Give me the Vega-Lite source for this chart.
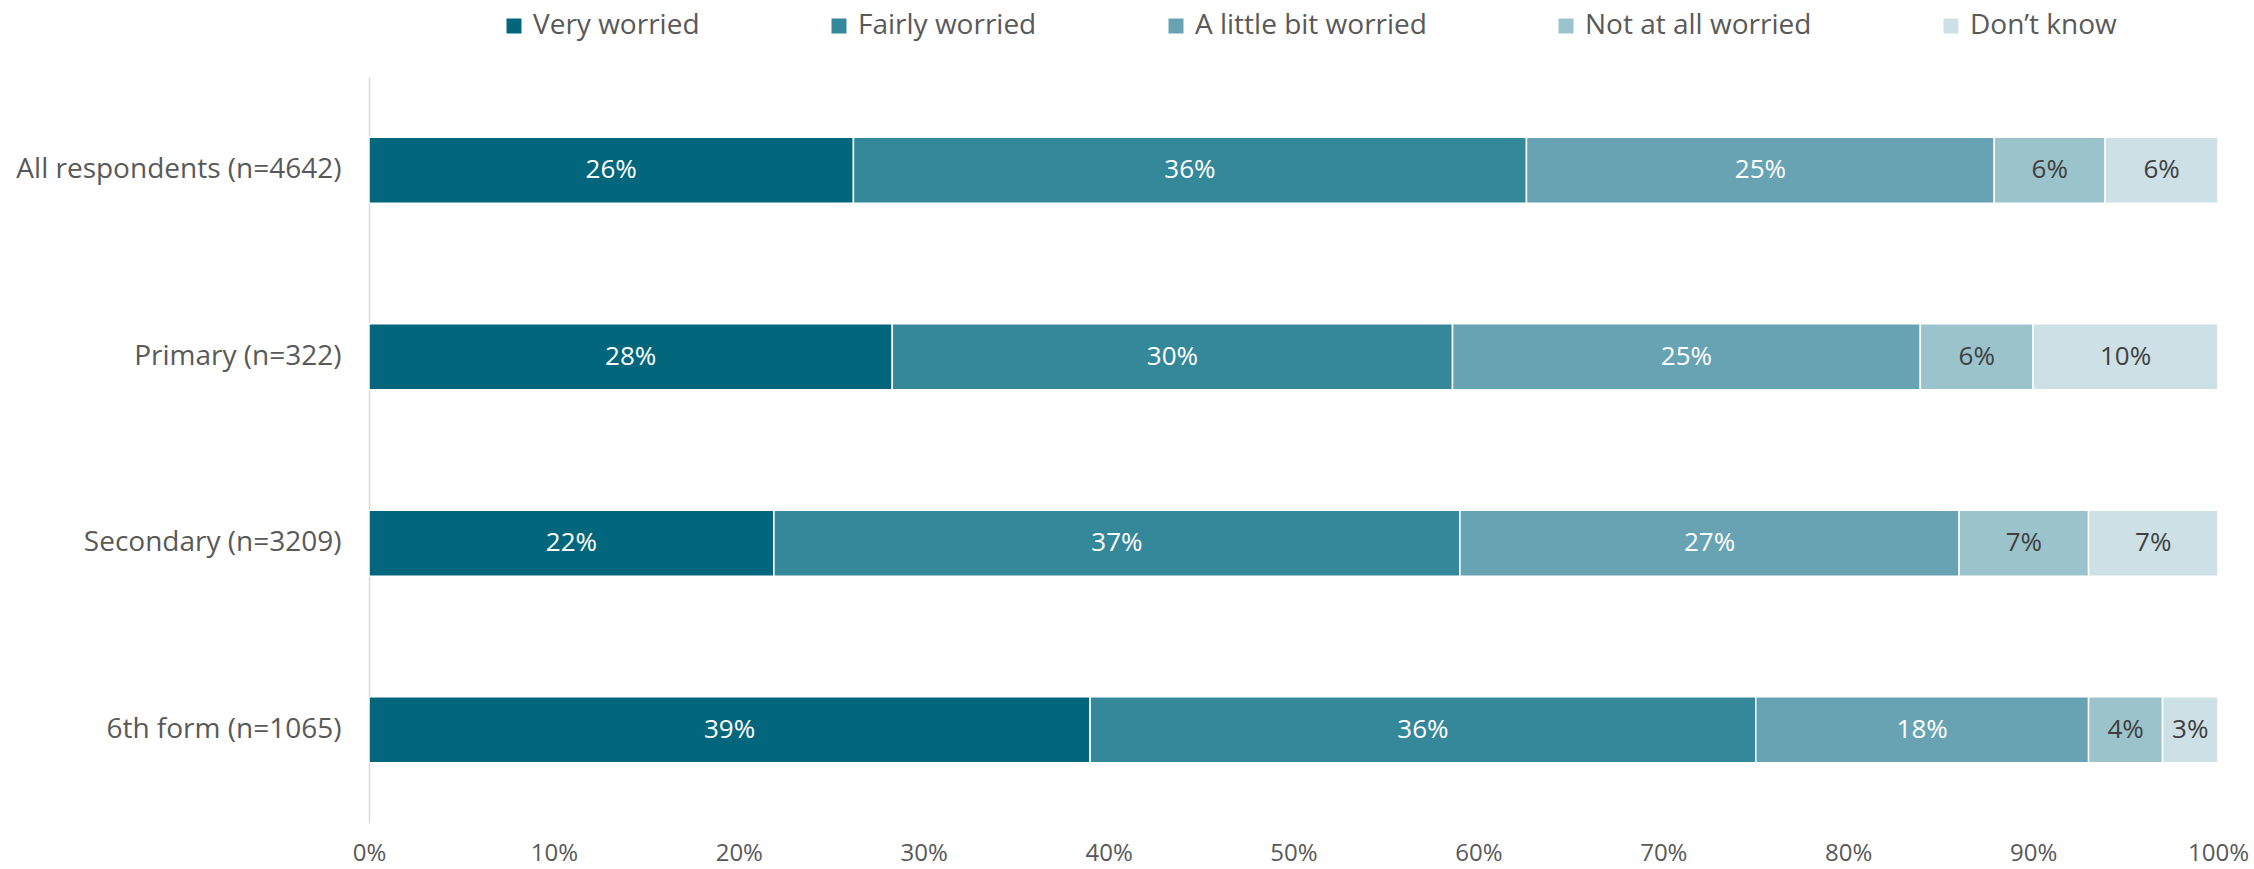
{
  "$schema": "https://vega.github.io/schema/vega-lite/v6.json",
  "width": 1849,
  "height": 746,
  "autosize": {"type": "none"},
  "padding": {"left": 369, "top": 77, "right": 36, "bottom": 46},
  "background": "white",
  "config": {
    "view": {"stroke": null},
    "font": "Open Sans"
  },
  "data": {
    "values": [
      {"group": "All respondents (n=4642)", "category": "Very worried", "order": 1, "value": 26.2},
      {"group": "All respondents (n=4642)", "category": "Fairly worried", "order": 2, "value": 36.4},
      {"group": "All respondents (n=4642)", "category": "A little bit worried", "order": 3, "value": 25.3},
      {"group": "All respondents (n=4642)", "category": "Not at all worried", "order": 4, "value": 6.0},
      {"group": "All respondents (n=4642)", "category": "Don’t know", "order": 5, "value": 6.1},
      {"group": "Primary (n=322)", "category": "Very worried", "order": 1, "value": 28.3},
      {"group": "Primary (n=322)", "category": "Fairly worried", "order": 2, "value": 30.3},
      {"group": "Primary (n=322)", "category": "A little bit worried", "order": 3, "value": 25.3},
      {"group": "Primary (n=322)", "category": "Not at all worried", "order": 4, "value": 6.1},
      {"group": "Primary (n=322)", "category": "Don’t know", "order": 5, "value": 10.0},
      {"group": "Secondary (n=3209)", "category": "Very worried", "order": 1, "value": 21.9},
      {"group": "Secondary (n=3209)", "category": "Fairly worried", "order": 2, "value": 37.1},
      {"group": "Secondary (n=3209)", "category": "A little bit worried", "order": 3, "value": 27.0},
      {"group": "Secondary (n=3209)", "category": "Not at all worried", "order": 4, "value": 7.0},
      {"group": "Secondary (n=3209)", "category": "Don’t know", "order": 5, "value": 7.0},
      {"group": "6th form (n=1065)", "category": "Very worried", "order": 1, "value": 39.0},
      {"group": "6th form (n=1065)", "category": "Fairly worried", "order": 2, "value": 36.0},
      {"group": "6th form (n=1065)", "category": "A little bit worried", "order": 3, "value": 18.0},
      {"group": "6th form (n=1065)", "category": "Not at all worried", "order": 4, "value": 4.0},
      {"group": "6th form (n=1065)", "category": "Don’t know", "order": 5, "value": 3.0}
    ]
  },
  "transform": [
    {"stack": "value", "groupby": ["group"], "sort": [{"field": "order", "order": "ascending"}], "as": ["x0", "x1"]},
    {"calculate": "(datum.x0 + datum.x1) / 2", "as": "mid"},
    {"calculate": "format(datum.value, '.0f') + '%'", "as": "label"}
  ],
  "encoding": {
    "y": {
      "field": "group",
      "type": "nominal",
      "sort": ["All respondents (n=4642)", "Primary (n=322)", "Secondary (n=3209)", "6th form (n=1065)"],
      "scale": {"paddingInner": 0.646, "paddingOuter": 0.323},
      "axis": {
        "title": null,
        "ticks": false,
        "domain": true,
        "domainColor": "#D9D9D9",
        "domainWidth": 1.5,
        "labelFont": "Open Sans",
        "labelFontSize": 28,
        "labelColor": "#595959",
        "labelPadding": 28,
        "labelLimit": 500
      }
    }
  },
  "layer": [
    {
      "mark": {"type": "bar", "stroke": "white", "strokeWidth": 1.5},
      "encoding": {
        "x": {
          "field": "x0",
          "type": "quantitative",
          "scale": {"domain": [0, 100], "nice": false},
          "axis": {
            "title": null,
            "values": [0, 10, 20, 30, 40, 50, 60, 70, 80, 90, 100],
            "labelExpr": "datum.value + '%'",
            "grid": false,
            "ticks": false,
            "domain": false,
            "labelFont": "Open Sans",
            "labelFontSize": 24,
            "labelColor": "#595959",
            "labelPadding": 18,
            "labelFlush": false,
            "labelBaseline": "top"
          }
        },
        "x2": {"field": "x1"},
        "color": {
          "field": "category",
          "type": "nominal",
          "sort": ["Very worried", "Fairly worried", "A little bit worried", "Not at all worried", "Don’t know"],
          "scale": {
            "domain": ["Very worried", "Fairly worried", "A little bit worried", "Not at all worried", "Don’t know"],
            "range": ["#02677D", "#35889A", "#67A3B3", "#9BC3CC", "#CDE0E6"]
          },
          "legend": {
            "title": null,
            "orient": "none",
            "direction": "horizontal",
            "legendX": 131,
            "legendY": -65,
            "padding": 0,
            "columnPadding": 125,
            "symbolType": "square",
            "symbolSize": 225,
            "symbolStrokeWidth": 0,
            "labelOffset": 5,
            "labelFont": "Open Sans",
            "labelFontSize": 28,
            "labelColor": "#595959",
            "labelLimit": 400
          }
        },
        "order": {"field": "order"}
      }
    },
    {
      "mark": {"type": "text", "fontSize": 26, "font": "Open Sans", "baseline": "middle", "align": "center"},
      "encoding": {
        "x": {"field": "mid", "type": "quantitative"},
        "text": {"field": "label", "type": "nominal"},
        "color": {
          "condition": {"test": "datum.order <= 3", "value": "white"},
          "value": "#404040"
        }
      }
    }
  ]
}
